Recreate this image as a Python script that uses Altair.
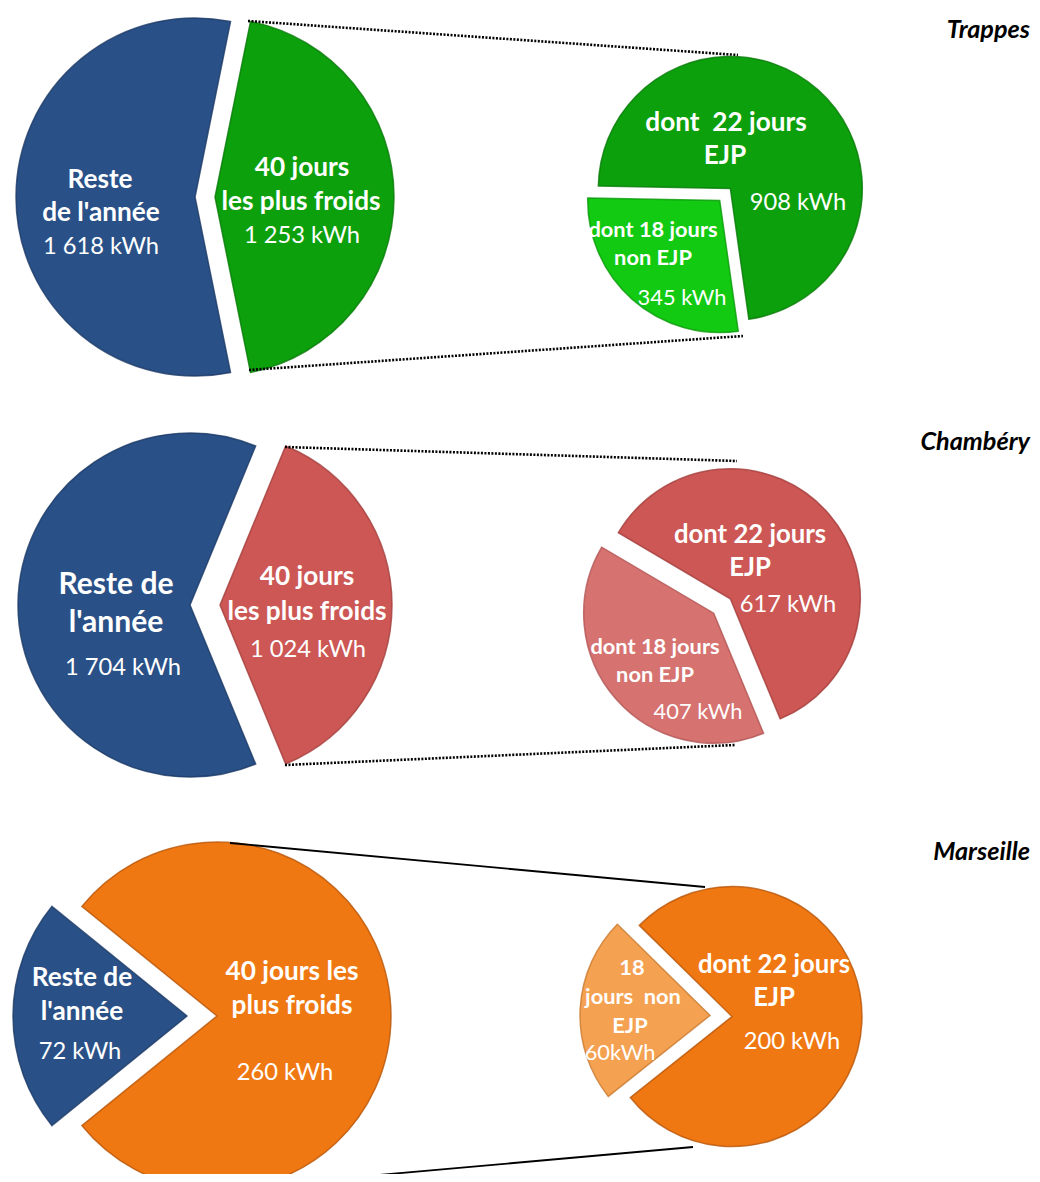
import altair as alt
import pandas as pd

# ---------------- data ----------------
cities = ["Trappes", "Chambéry", "Marseille"]
reste_kwh = [1618, 1704, 72]
froids_kwh = [1253, 1024, 260]
ejp_kwh = [908, 617, 200]
non_ejp_kwh = [345, 407, 60]

reste_text = [["Reste", "de l'année"], ["Reste de", "l'année"], ["Reste de", "l'année"]]
froids_text = [["40 jours", "les plus froids"], ["40 jours", "les plus froids"], ["40 jours les", "plus froids"]]
ejp_text = [["dont\u00a0 22 jours", "EJP"], ["dont 22 jours", "EJP"], ["dont 22 jours", "EJP"]]
non_ejp_text = [["dont 18 jours", "non EJP"], ["dont 18 jours", "non EJP"], ["18", "jours\u00a0 non", "EJP"]]
non_ejp_unit_sep = [" ", " ", ""]


def kwh(v, sep=" "):
    return f"{v:,}".replace(",", " ") + sep + "kWh"


# ---------------- style / layout ----------------
MX = 8             # image x of plot x = 0 (page margin)
MY = 8             # image y of plot y = 0
FONT = "Lato"
KB = 0.97          # bold font size factor
KR = 0.91          # regular font size factor
W, H = 1024, 1166

BLUE, BLUE_S = "#2A5187", "#1B3A66"
MAIN = ["#0DA00D", "#CC5755", "#F07813"]
MAIN_S = ["#077A07", "#A33D3B", "#B8560A"]
LIGHT = ["#12CA12", "#D67270", "#F5A152"]
LIGHT_S = ["#0A9A0A", "#B05452", "#C97A30"]

BIG = [dict(cx=205, cy=197, r=179, ex=[10, 10]),
       dict(cx=205, cy=605, r=172, ex=[15, 15]),
       dict(cx=202, cy=1016, r=174, ex=[15, 15])]
SMALL = [dict(cx=729, cy=190, r=132, ex=[14, 2], mid0=221.5),
         dict(cx=722, cy=606, r=130, ex=[11, 11], mid0=229),
         dict(cx=721, cy=1016, r=130, ex=[11, 11], mid0=273)]


def pie_layer(values, colors, strokes, cx, cy, r, explode, mid0_deg):
    df = pd.DataFrame({"order": list(range(len(values))), "value": values,
                       "color": colors, "stroke": strokes, "ex": explode})
    return alt.Chart(df).transform_joinaggregate(
        total="sum(value)"
    ).transform_window(
        cum="sum(value)", first="first_value(value)",
        sort=[alt.SortField("order")], frame=[None, 0]
    ).transform_calculate(
        start=f"{mid0_deg}*PI/180 - PI*datum.first/datum.total"
    ).transform_calculate(
        a0="datum.start + 2*PI*(datum.cum - datum.value)/datum.total",
        a1="datum.start + 2*PI*datum.cum/datum.total",
    ).transform_calculate(
        mid="(datum.a0 + datum.a1)/2"
    ).transform_calculate(
        px=f"{cx - MX} + datum.ex*sin(datum.mid)",
        py=f"{cy - MY} - datum.ex*cos(datum.mid)",
    ).mark_arc(radius=r, strokeWidth=1.5, strokeOpacity=0.8).encode(
        x=alt.X("px:Q", scale=None, axis=None),
        y=alt.Y("py:Q", scale=None, axis=None),
        theta=alt.Theta("a0:Q", scale=None),
        theta2=alt.Theta2("a1:Q"),
        color=alt.Color("color:N", scale=None),
        stroke=alt.Stroke("stroke:N", scale=None),
    )


layers = []
for i in range(3):
    b, s = BIG[i], SMALL[i]
    layers.append(pie_layer([reste_kwh[i], froids_kwh[i]], [BLUE, MAIN[i]], [BLUE_S, MAIN_S[i]],
                            b["cx"], b["cy"], b["r"], b["ex"], 270))
    layers.append(pie_layer([non_ejp_kwh[i], ejp_kwh[i]], [LIGHT[i], MAIN[i]], [LIGHT_S[i], MAIN_S[i]],
                            s["cx"], s["cy"], s["r"], s["ex"], s["mid0"]))

# connector lines (image px)
dotted = pd.DataFrame({
    "x": [248, 249, 285, 285], "y": [21, 370, 447, 765],
    "x2": [738, 743, 737, 735], "y2": [55, 336, 461, 745]})
solid = pd.DataFrame({"x": [230, 300], "y": [843, 1182], "x2": [705, 693], "y2": [887, 1147]})
for d in (dotted, solid):
    for c in ("x", "x2"):
        d[c] = d[c] - MX
    for c in ("y", "y2"):
        d[c] = d[c] - MY


def rule_layer(df, **kw):
    return alt.Chart(df).mark_rule(color="black", **kw).encode(
        x=alt.X("x:Q", scale=None), y=alt.Y("y:Q", scale=None),
        x2="x2:Q", y2="y2:Q")


layers.append(rule_layer(dotted, strokeWidth=2.6, strokeDash=[2, 1.5], strokeCap="butt"))
layers.append(rule_layer(solid, strokeWidth=1.8))

# text labels
rows = []


def add(lines, pos, size, bold):
    for t, (x, y) in zip(lines, pos):
        rows.append(dict(text=t, x=x - MX, y=y - MY, size=size * (KB if bold else KR), bold=bold))


# Trappes
add(reste_text[0], [(100, 180), (101, 213)], 27, True)
add([kwh(reste_kwh[0])], [(101, 247)], 26, False)
add(froids_text[0], [(302, 168), (301, 202)], 27, True)
add([kwh(froids_kwh[0])], [(302, 236)], 26, False)
add(ejp_text[0], [(726, 123), (725, 156)], 27, True)
add([kwh(ejp_kwh[0])], [(798, 203)], 26, False)
add(non_ejp_text[0], [(653, 230), (653, 258)], 22.5, True)
add([kwh(non_ejp_kwh[0], non_ejp_unit_sep[0])], [(682, 298)], 24, False)
# Chambéry
add(reste_text[1], [(116, 585), (116, 623)], 31, True)
add([kwh(reste_kwh[1])], [(123, 668)], 26, False)
add(froids_text[1], [(307, 577), (307, 612)], 27, True)
add([kwh(froids_kwh[1])], [(308, 650)], 26, False)
add(ejp_text[1], [(750, 535), (750, 568)], 26.5, True)
add([kwh(ejp_kwh[1])], [(788, 605)], 26, False)
add(non_ejp_text[1], [(655, 647), (655, 675)], 22.5, True)
add([kwh(non_ejp_kwh[1], non_ejp_unit_sep[1])], [(698, 712)], 24, False)
# Marseille
add(reste_text[2], [(82, 978), (82, 1012)], 27, True)
add([kwh(reste_kwh[2])], [(80, 1052)], 26, False)
add(froids_text[2], [(292, 972), (292, 1006)], 27, True)
add([kwh(froids_kwh[2])], [(285, 1073)], 26, False)
add(ejp_text[2], [(774, 965), (774, 998)], 26.5, True)
add([kwh(ejp_kwh[2])], [(792, 1042)], 26, False)
add(non_ejp_text[2], [(632, 968), (633, 997), (630, 1026)], 22.5, True)
add([kwh(non_ejp_kwh[2], non_ejp_unit_sep[2])], [(620, 1053)], 24, False)

labels = pd.DataFrame(rows)
for bold in (True, False):
    layers.append(
        alt.Chart(labels[labels["bold"] == bold]).mark_text(
            font=FONT, fontWeight="bold" if bold else "normal", color="white",
            align="center", baseline="middle"
        ).encode(
            x=alt.X("x:Q", scale=None), y=alt.Y("y:Q", scale=None),
            text="text:N", size=alt.Size("size:Q", scale=None)
        )
    )

titles = pd.DataFrame({"city": cities, "x": [1030 - MX] * 3, "y": [30 - MY, 442 - MY, 852 - MY]})
layers.append(
    alt.Chart(titles).mark_text(
        font=FONT, fontWeight="bold", fontStyle="italic", fontSize=26 * KB,
        color="black", align="right", baseline="middle"
    ).encode(x=alt.X("x:Q", scale=None), y=alt.Y("y:Q", scale=None), text="city:N")
)

chart = alt.layer(*layers).properties(
    width=W, height=H, padding=0, autosize="none", background="white"
).configure_view(stroke=None)

chart.save("out.html", embed_options={"renderer": "svg", "actions": False})
